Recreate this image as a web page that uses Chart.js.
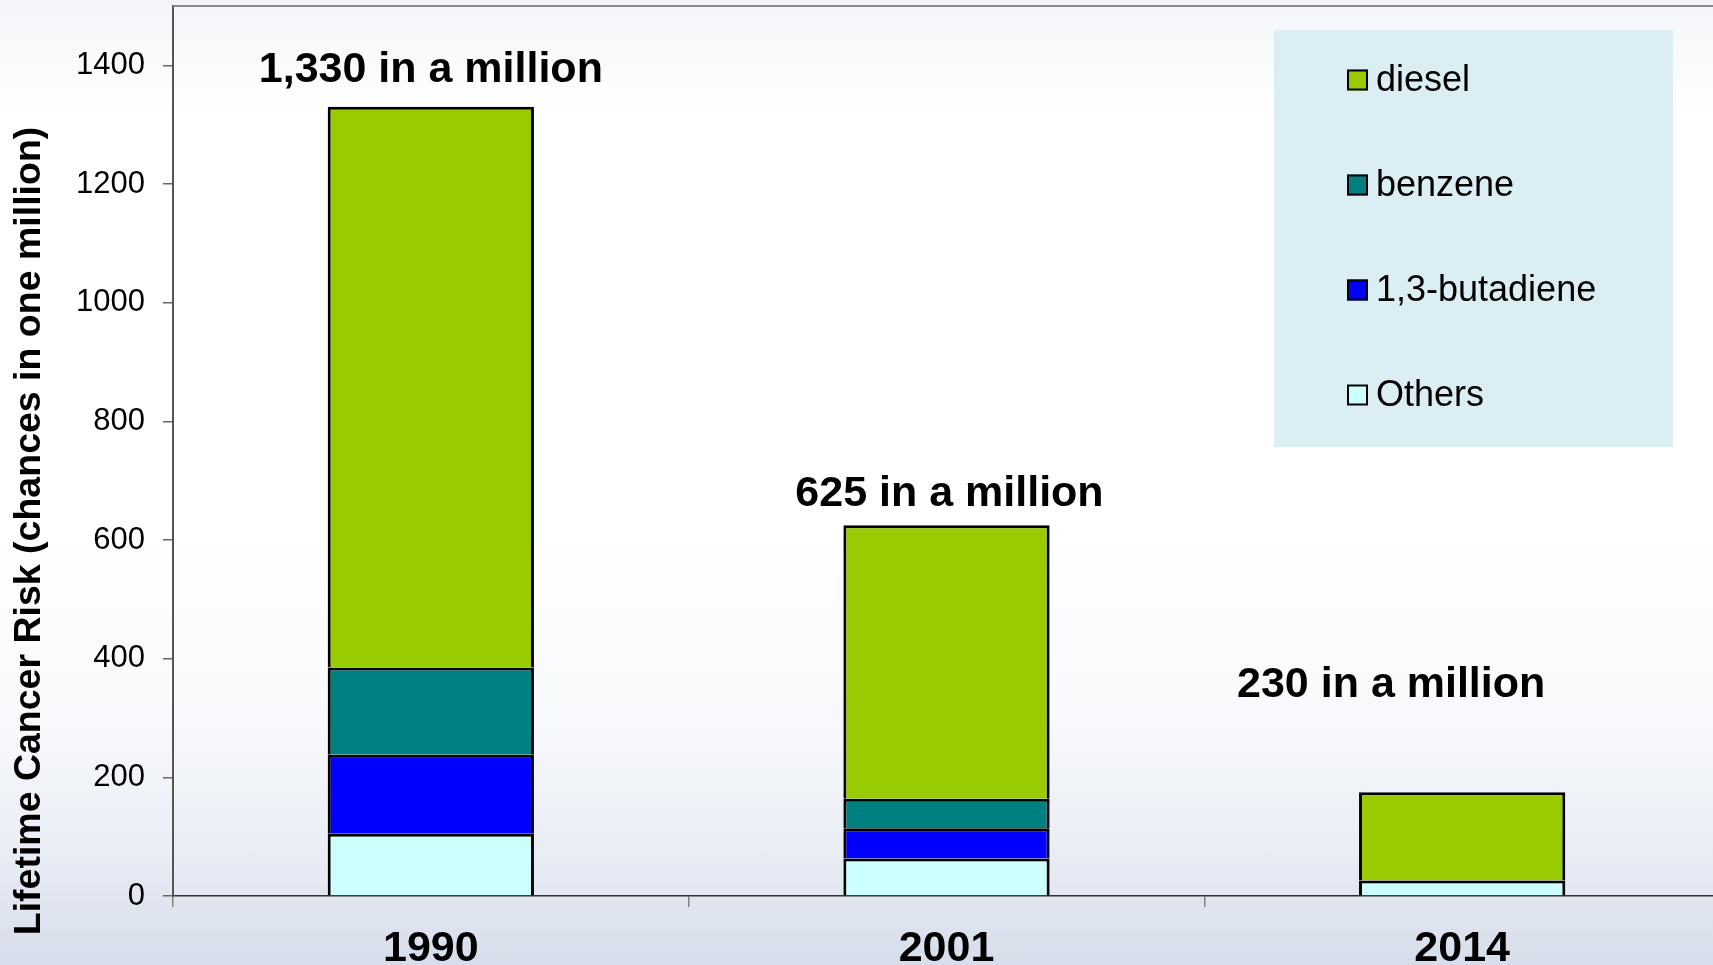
<!DOCTYPE html>
<html>
<head>
<meta charset="utf-8">
<script src="https://cdn.jsdelivr.net/npm/chart.js@4.4.1/dist/chart.umd.min.js"></script>
<style>
    html, body {
        margin: 0;
        padding: 0;
        width: 1713px;
        height: 965px;
        overflow: hidden;
    }
    body {
        background: linear-gradient(to bottom, #f3f5f9 0%, #ffffff 12%, #ffffff 55%, #f7f9fc 75%, #e9edf5 88%, #d6deeb 100%);
    }
    #chartWrap {
        position: relative;
        width: 1720px;
        height: 965px;
    }
</style>
</head>
<body>
<div id="chartWrap"><canvas id="riskChart"></canvas></div>
<script>
const years = ['1990', '2001', '2014'];
const othersRisk = [105, 63, 26];
const butadieneRisk = [133, 51, 0];
const benzeneRisk = [147, 50, 0];
const dieselRisk = [945, 461, 149];
const totalLabels = ['1,330 in a million', '625 in a million', '230 in a million'];
const yTickValues = [0, 200, 400, 600, 800, 1000, 1200, 1400];

const fontFamily = "'Liberation Sans', Arial, Helvetica, sans-serif";

// top border of the plot frame
const frameLine = {
    id: 'frameLine',
    afterDraw(chart) {
        const { ctx, chartArea } = chart;
        ctx.save();
        ctx.strokeStyle = '#8a8a8a';
        ctx.lineWidth = 2;
        ctx.beginPath();
        ctx.moveTo(chartArea.left, chartArea.top);
        ctx.lineTo(chartArea.right, chartArea.top);
        ctx.stroke();
        ctx.restore();
    },
};

// "... in a million" labels above each stack
const totalsLabels = {
    id: 'totalsLabels',
    afterDatasetsDraw(chart, args, opts) {
        const { ctx, scales } = chart;
        ctx.save();
        ctx.font = `bold ${opts.size}px ${fontFamily}`;
        ctx.fillStyle = '#000';
        ctx.textAlign = 'center';
        ctx.textBaseline = 'middle';
        totalLabels.forEach((text, i) => {
            const total = othersRisk[i] + butadieneRisk[i] + benzeneRisk[i] + dieselRisk[i];
            const offset = opts.offsets[i];
            const x = scales.x.getPixelForValue(i) + offset.dx;
            const y = scales.y.getPixelForValue(total) + offset.dy;
            ctx.fillText(text, x, y);
        });
        ctx.restore();
    },
};

// rotated axis title, placed like the original slide
const yTitle = {
    id: 'yTitle',
    afterDraw(chart, args, opts) {
        const { ctx } = chart;
        ctx.save();
        ctx.translate(opts.x, opts.y);
        ctx.rotate(-Math.PI / 2);
        ctx.font = `bold ${opts.size}px ${fontFamily}`;
        ctx.fillStyle = '#000';
        ctx.textAlign = 'center';
        ctx.textBaseline = 'middle';
        ctx.fillText(opts.text, 0, 0);
        ctx.restore();
    },
};

// boxed legend, top item = top of the stack
const boxLegend = {
    id: 'boxLegend',
    afterDraw(chart, args, opts) {
        const { ctx } = chart;
        const items = chart.data.datasets.slice().reverse();
        ctx.save();
        ctx.fillStyle = opts.background;
        ctx.fillRect(opts.left, opts.top, opts.width, opts.height);
        ctx.font = `${opts.size}px ${fontFamily}`;
        ctx.textAlign = 'left';
        ctx.textBaseline = 'middle';
        items.forEach((ds, i) => {
            const cy = opts.firstY + i * opts.spacing;
            ctx.fillStyle = ds.backgroundColor;
            ctx.fillRect(opts.boxX, cy - opts.box / 2, opts.box, opts.box);
            ctx.strokeStyle = '#000';
            ctx.lineWidth = 2;
            ctx.strokeRect(opts.boxX + 1, cy - opts.box / 2 + 1, opts.box - 2, opts.box - 2);
            ctx.fillStyle = '#000';
            ctx.fillText(ds.label, opts.textX, cy + 1);
        });
        ctx.restore();
    },
};

// one black line between stacked segments: no bottom border, the lower segment's top does it
const barStyle = {
    borderColor: '#000',
    borderWidth: { top: 3, left: 3, right: 3, bottom: 0 },
    borderSkipped: false,
    barPercentage: 0.4,
    categoryPercentage: 1.0,
};

new Chart(document.getElementById('riskChart').getContext('2d'), {
    type: 'bar',
    data: {
        labels: years,
        datasets: [
            { label: 'Others', data: othersRisk, backgroundColor: '#CCFFFF', ...barStyle },
            { label: '1,3-butadiene', data: butadieneRisk, backgroundColor: '#0000FF', ...barStyle },
            { label: 'benzene', data: benzeneRisk, backgroundColor: '#008080', ...barStyle },
            { label: 'diesel', data: dieselRisk, backgroundColor: '#99CC00', ...barStyle },
        ],
    },
    options: {
        responsive: true,
        maintainAspectRatio: false,
        animation: false,
        layout: {
            padding: { top: 6, left: 0, right: 0, bottom: 0 },
        },
        plugins: {
            legend: { display: false },
            tooltip: { enabled: false },
            totalsLabels: {
                size: 43,
                offsets: [{ dx: 0, dy: -37 }, { dx: 3, dy: -31 }, { dx: -71, dy: -107 }],
            },
            yTitle: {
                text: 'Lifetime Cancer Risk (chances in one million)',
                x: 30,
                y: 531,
                size: 37.5,
            },
            boxLegend: {
                background: '#DBEEF4',
                left: 1274,
                top: 30,
                width: 399,
                height: 417,
                boxX: 1347,
                box: 21,
                textX: 1376,
                firstY: 80,
                spacing: 105,
                size: 36,
            },
        },
        scales: {
            x: {
                stacked: true,
                afterFit(scale) {
                    scale.height = 69;
                    scale.paddingLeft = 0;
                    scale.paddingRight = 0;
                },
                grid: {
                    offset: true,
                    drawOnChartArea: false,
                    drawTicks: true,
                    tickLength: 11,
                    color: '#808080',
                    lineWidth: 1.5,
                },
                border: { color: '#333', width: 1.5 },
                ticks: {
                    color: '#000',
                    padding: 16,
                    font: { family: fontFamily, size: 43, weight: 'bold' },
                },
            },
            y: {
                stacked: true,
                min: 0,
                max: 1500,
                afterFit(scale) {
                    scale.width = 173;
                    scale.paddingTop = 0;
                    scale.paddingBottom = 0;
                },
                afterBuildTicks(scale) {
                    scale.ticks = yTickValues.map((value) => ({ value }));
                },
                grid: {
                    drawOnChartArea: false,
                    drawTicks: true,
                    tickLength: 10,
                    color: '#666',
                    lineWidth: 1.5,
                },
                border: { color: '#555', width: 2 },
                ticks: {
                    color: '#000',
                    padding: 18,
                    font: { family: fontFamily, size: 31 },
                    callback(value) {
                        return String(value);
                    },
                },
            },
        },
    },
    plugins: [frameLine, totalsLabels, yTitle, boxLegend],
});
</script>
</body>
</html>
